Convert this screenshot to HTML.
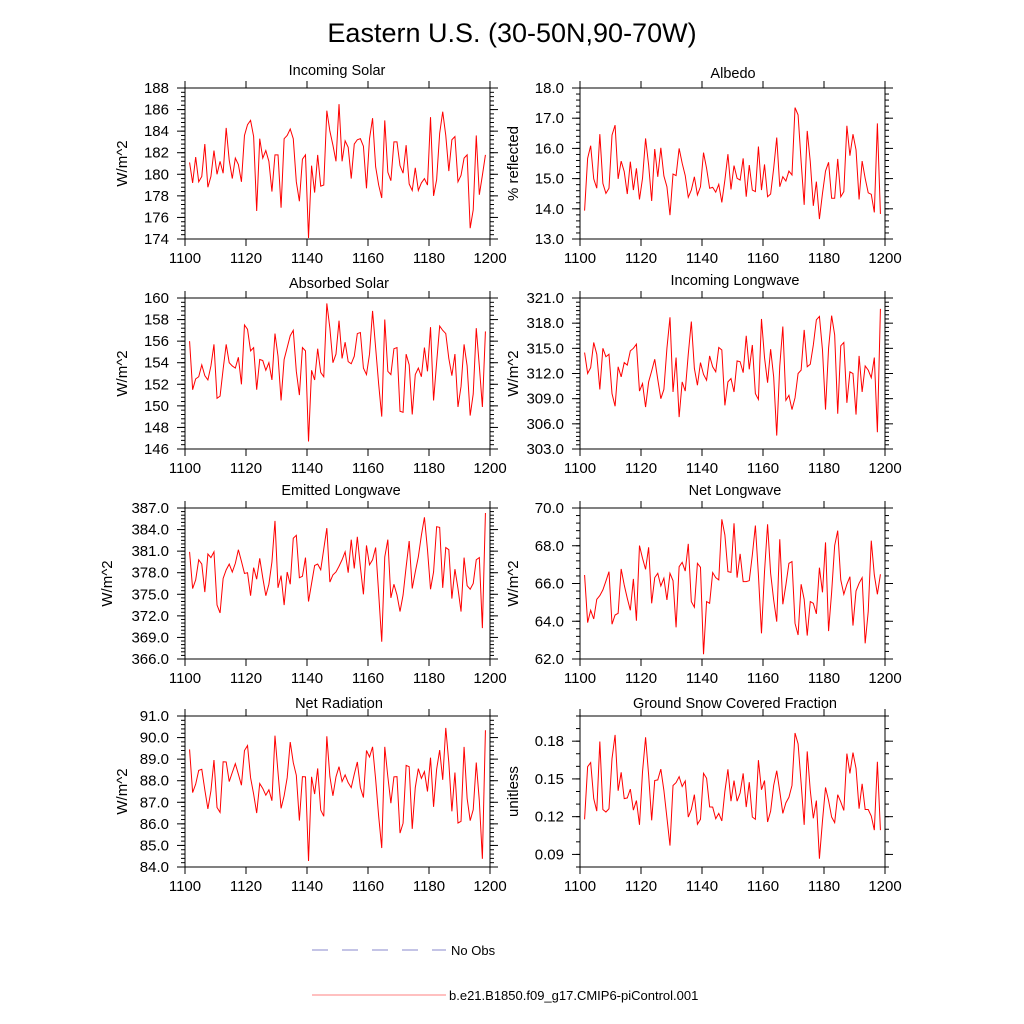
<!DOCTYPE html>
<html><head><meta charset="utf-8"><style>
html,body{margin:0;padding:0;background:#fff;}
svg{display:block;font-family:"Liberation Sans",Arial,sans-serif;}
</style></head><body>
<svg id="fig" width="1024" height="1024" viewBox="0 0 1024 1024">
<text x="512" y="42" font-size="27" text-anchor="middle">Eastern U.S. (30-50N,90-70W)</text>
<g>
<line x1="312" y1="950" x2="446" y2="950" stroke="#8888cc" stroke-width="1" stroke-dasharray="16,14"/>
<text x="451" y="955" font-size="13">No Obs</text>
<line x1="312" y1="995" x2="446" y2="995" stroke="#ff8080" stroke-width="1"/>
<text x="449" y="1000" font-size="13">b.e21.B1850.f09_g17.CMIP6-piControl.001</text>
</g>
</svg>
<script>
const xTicks = [1100,1120,1140,1160,1180,1200];
const startYear = 1101.5;
const incomingSolar = [181.1,179.2,181.6,179.3,179.8,182.8,178.8,179.8,182.2,180.0,181.2,180.1,184.3,181.3,179.6,181.5,180.9,179.3,183.6,184.6,185.0,183.5,176.6,183.3,181.5,182.2,181.2,178.4,181.8,181.8,176.9,183.3,183.6,184.2,183.3,179.3,177.5,181.4,181.8,174.1,180.8,178.3,181.8,178.9,179.0,185.9,184.0,182.7,181.2,186.5,181.2,183.1,182.5,179.6,182.8,183.2,183.3,182.6,178.7,183.3,185.2,180.7,179.0,177.8,185.0,180.2,179.4,183.0,183.0,180.8,180.1,182.7,179.1,178.5,180.6,178.5,179.2,179.6,179.0,185.3,178.0,179.5,183.8,185.8,183.6,180.3,183.2,183.5,179.3,179.9,181.5,181.8,175.0,176.7,183.6,178.1,179.9,181.8];
const albedo = [13.94,15.67,16.09,14.99,14.68,16.47,14.84,14.51,14.68,16.44,16.77,14.99,15.58,15.23,14.49,15.56,14.62,15.34,14.31,15.01,16.33,15.45,14.26,15.98,15.06,16.02,15.09,14.73,13.79,15.15,15.10,16.00,15.51,15.10,14.38,14.62,15.06,14.46,14.73,15.86,15.34,14.68,14.71,14.55,14.81,14.21,14.95,15.81,14.64,15.43,15.01,14.95,15.67,14.40,15.45,14.62,14.57,16.06,14.62,15.47,14.40,14.49,15.34,16.36,14.73,15.06,14.92,15.25,15.12,17.35,17.11,15.56,14.13,16.58,15.56,14.10,14.90,13.66,14.51,15.25,15.54,14.35,14.35,15.65,14.40,14.57,16.75,15.76,16.47,15.95,14.31,15.58,15.01,14.53,14.48,13.88,16.83,13.83];
const absorbedSolar = [156.0,151.5,152.5,152.7,153.8,152.8,152.4,153.7,155.7,150.7,150.9,153.4,155.7,154.0,153.7,153.5,154.5,152.0,157.5,157.1,155.1,155.4,151.5,154.3,154.2,153.3,154.0,152.4,156.7,154.6,150.5,154.3,155.4,156.5,157.0,153.2,151.0,155.4,155.1,146.7,153.3,152.4,155.3,153.1,152.7,159.5,157.2,154.0,154.8,157.9,154.4,155.9,154.1,153.9,154.6,156.7,156.8,153.5,152.9,154.8,158.8,155.4,152.0,149.0,158.0,153.2,152.9,155.3,155.4,149.5,149.4,154.8,153.8,149.2,152.9,153.5,152.7,155.4,153.2,157.3,150.5,154.0,157.4,157.0,156.7,154.4,152.8,154.8,149.9,151.8,155.7,153.7,149.1,151.1,157.2,153.7,149.9,156.9];
const incomingLW = [314.5,312.0,312.7,315.7,314.3,310.1,315.0,314.0,314.3,309.6,308.1,312.8,311.6,313.3,313.0,314.7,315.0,315.5,309.9,310.8,308.0,311.0,312.3,313.7,311.3,309.0,310.1,315.0,318.7,309.8,313.9,306.8,311.0,309.9,314.3,318.2,312.6,310.6,313.3,311.9,311.2,314.1,312.8,312.2,315.1,314.8,308.2,311.0,311.4,309.8,313.5,313.4,312.1,316.5,312.5,315.4,309.6,308.9,318.5,313.9,310.9,314.9,311.6,304.6,312.9,317.6,308.8,309.4,307.7,309.1,312.0,312.4,317.2,312.8,313.1,315.4,318.4,318.8,314.8,307.7,315.0,318.9,316.6,307.2,315.3,315.7,308.5,312.2,312.0,307.1,314.1,309.8,312.9,312.4,311.5,313.9,305.0,319.7];
const emittedLW = [380.9,375.8,377.0,379.8,379.2,375.3,380.6,380.1,380.9,373.5,372.4,377.2,378.4,379.2,378.1,379.3,381.2,379.6,377.9,378.0,374.8,378.7,377.1,380.0,377.3,374.8,376.4,379.5,385.2,375.9,377.6,373.5,378.1,376.4,382.8,383.2,377.3,377.5,380.1,374.0,376.5,379.0,379.2,378.4,381.3,384.2,376.7,377.7,378.1,378.9,379.8,380.9,378.0,382.6,378.6,383.0,378.8,375.0,381.8,379.1,379.8,381.5,375.1,368.4,380.2,382.6,374.5,376.4,374.9,372.6,374.9,378.8,382.4,375.8,378.1,380.2,383.2,385.7,381.2,375.7,378.1,384.4,384.3,375.9,381.5,381.2,374.4,378.5,375.8,372.6,380.1,376.2,375.7,376.5,379.8,380.1,370.3,386.3];
const netLW = [66.45,63.93,64.58,64.12,65.16,65.36,65.66,66.13,66.63,63.84,64.33,64.42,66.77,65.92,65.22,64.58,66.24,64.03,68.01,67.34,66.75,67.92,64.95,66.31,66.54,65.87,66.28,65.13,66.54,66.15,63.68,66.89,67.12,66.66,68.10,65.04,64.74,67.07,66.86,62.25,65.04,64.95,66.58,66.31,66.19,69.40,68.57,66.63,66.59,69.19,66.31,67.57,66.10,66.10,66.15,67.51,69.07,66.45,63.36,66.63,69.14,66.54,65.13,63.98,68.34,64.90,65.92,67.07,67.16,63.89,63.27,65.96,65.16,63.24,65.04,64.95,64.39,66.84,65.53,68.18,63.48,65.53,68.01,68.80,66.19,65.43,65.96,66.36,63.77,65.60,66.01,66.31,62.83,64.51,68.27,66.45,65.43,66.49];
const netRad = [89.45,87.45,87.84,88.48,88.53,87.58,86.69,87.53,88.96,86.76,86.53,88.88,88.87,87.96,88.38,88.79,88.30,87.79,89.40,89.63,88.14,87.38,86.50,87.87,87.64,87.33,87.58,87.07,90.09,88.38,86.72,87.30,88.14,89.79,88.84,88.25,86.15,88.19,88.18,84.28,88.18,87.38,88.57,86.64,86.35,90.06,88.19,87.30,88.18,88.65,87.96,88.27,87.91,87.68,88.30,88.87,87.68,87.22,89.40,89.10,89.57,88.07,86.35,84.88,89.57,88.19,86.96,88.18,88.19,85.57,86.03,88.71,88.65,85.77,87.68,88.56,88.11,88.42,87.50,89.07,86.79,88.53,89.42,88.04,90.45,88.84,86.58,88.38,86.04,86.12,89.57,87.18,86.15,86.66,88.84,87.07,84.38,90.34];
const snowFrac = [0.1179,0.1597,0.1630,0.1343,0.1244,0.1797,0.1257,0.1237,0.1263,0.1662,0.1850,0.1406,0.1552,0.1343,0.1349,0.1419,0.1252,0.1328,0.1135,0.1557,0.1831,0.1531,0.1171,0.1487,0.1492,0.1578,0.1409,0.1192,0.0970,0.1448,0.1471,0.1518,0.1440,0.1484,0.1197,0.1257,0.1375,0.1140,0.1179,0.1544,0.1505,0.1278,0.1276,0.1184,0.1226,0.1166,0.1401,0.1576,0.1323,0.1487,0.1323,0.1388,0.1544,0.1276,0.1474,0.1197,0.1179,0.1649,0.1414,0.1487,0.1158,0.1244,0.1448,0.1565,0.1401,0.1226,0.1310,0.1354,0.1448,0.1865,0.1779,0.1466,0.1135,0.1719,0.1409,0.1187,0.1328,0.0866,0.1166,0.1432,0.1328,0.1197,0.1153,0.1375,0.1317,0.1249,0.1701,0.1544,0.1709,0.1583,0.1263,0.1461,0.1257,0.1257,0.1205,0.1093,0.1636,0.1093];

const panels = [
 {name:'incoming-solar', title:'Incoming Solar', ylab:'W/m^2', data:incomingSolar, x0:185, y0:88, ymin:174, ymax:188, major:2, minorN:5, dec:0, tx:337, ty:75, labx:127},
 {name:'albedo', title:'Albedo', ylab:'% reflected', data:albedo, x0:580, y0:88, ymin:13, ymax:18, major:1, minorN:5, dec:1, tx:733, ty:78, labx:518},
 {name:'absorbed-solar', title:'Absorbed Solar', ylab:'W/m^2', data:absorbedSolar, x0:185, y0:298, ymin:146, ymax:160, major:2, minorN:5, dec:0, tx:339, ty:288, labx:127},
 {name:'incoming-longwave', title:'Incoming Longwave', ylab:'W/m^2', data:incomingLW, x0:580, y0:298, ymin:303, ymax:321, major:3, minorN:6, dec:1, tx:735, ty:285, labx:518},
 {name:'emitted-longwave', title:'Emitted Longwave', ylab:'W/m^2', data:emittedLW, x0:185, y0:508, ymin:366, ymax:387, major:3, minorN:6, dec:1, tx:341, ty:495, labx:112},
 {name:'net-longwave', title:'Net Longwave', ylab:'W/m^2', data:netLW, x0:580, y0:508, ymin:62, ymax:70, major:2, minorN:5, dec:1, tx:735, ty:495, labx:518},
 {name:'net-radiation', title:'Net Radiation', ylab:'W/m^2', data:netRad, x0:185, y0:716, ymin:84, ymax:91, major:1, minorN:5, dec:1, tx:339, ty:708, labx:127},
 {name:'snow-fraction', title:'Ground Snow Covered Fraction', ylab:'unitless', data:snowFrac, x0:580, y0:716, ymin:0.08, ymax:0.20, major:0.03, minorN:3, dec:2, tx:735, ty:708, labx:518, tickStart:0.09}
];
const W = 305, H = 151;
const svg = document.getElementById('fig');
const NS = 'http://www.w3.org/2000/svg';
function mk(tag, attrs, parent){
  const e = document.createElementNS(NS, tag);
  for (const k in attrs) e.setAttribute(k, attrs[k]);
  parent.appendChild(e);
  return e;
}
panels.forEach(p => {
  const g = mk('g', {}, svg);
  
  
  const xs = v => p.x0 + (v - 1100) / 100 * W;
  const ys = v => p.y0 + H - (v - p.ymin) / (p.ymax - p.ymin) * H;
  const frame = mk('rect', {x:p.x0, y:p.y0, width:W, height:H, fill:'none', stroke:'#000', 'stroke-width':1}, g);
  
  
  xTicks.forEach(t => {
    const x = xs(t);
    mk('line', {x1:x, y1:p.y0 + H, x2:x, y2:p.y0 + H + 7, stroke:'#000'}, g);
    mk('line', {x1:x, y1:p.y0, x2:x, y2:p.y0 - 7, stroke:'#000'}, g);
    const lab = mk('text', {x:x, y:p.y0 + H + 24, 'font-size':15, 'text-anchor':'middle'}, g);
    lab.textContent = t;
    
    
  });
  const start = p.tickStart !== undefined ? p.tickStart : p.ymin;
  const minorStep = p.major / p.minorN;
  for (let v = p.ymin; v <= p.ymax + 1e-9; v += minorStep) {
    const y = ys(v);
    mk('line', {x1:p.x0, y1:y, x2:p.x0 - 4, y2:y, stroke:'#000'}, g);
    mk('line', {x1:p.x0 + W, y1:y, x2:p.x0 + W + 4, y2:y, stroke:'#000'}, g);
  }
  for (let v = start; v <= p.ymax + 1e-9; v += p.major) {
    const y = ys(v);
    mk('line', {x1:p.x0, y1:y, x2:p.x0 - 8, y2:y, stroke:'#000'}, g);
    mk('line', {x1:p.x0 + W, y1:y, x2:p.x0 + W + 8, y2:y, stroke:'#000'}, g);
    const lab = mk('text', {x:p.x0 - 16, y:y + 5, 'font-size':15, 'text-anchor':'end'}, g);
    lab.textContent = v.toFixed(p.dec);
    
    
  }
  const ttl = mk('text', {x:p.tx, y:p.ty, 'font-size':14.5, 'text-anchor':'middle'}, g);
  ttl.textContent = p.title;
  
  
  const yl = mk('text', {x:p.labx, y:p.y0 + H / 2, 'font-size':15, 'text-anchor':'middle', transform:'rotate(-90 ' + p.labx + ' ' + (p.y0 + H / 2) + ')'}, g);
  yl.textContent = p.ylab;
  
  
  const pts = p.data.map((v, i) => xs(startYear + i).toFixed(2) + ',' + ys(v).toFixed(2)).join(' ');
  const line = mk('polyline', {points:pts, fill:'none', stroke:'#ff0000', 'stroke-width':1}, g);
  
  
});
</script>
</body></html>
